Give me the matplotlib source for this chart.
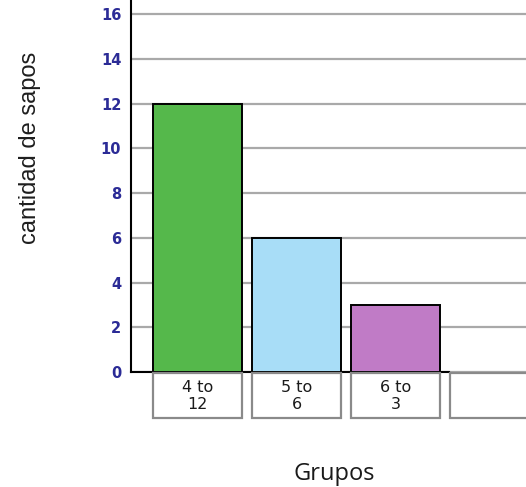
import matplotlib
matplotlib.use("Agg")
import matplotlib.pyplot as plt
from matplotlib.patches import Rectangle

# Data
groups = ["4 to\n12", "5 to\n6", "6 to\n3", ""]
counts = [12, 6, 3]
bar_colors = ["#55b84b", "#a8ddf7", "#c07bc6"]
y_ticks = [0, 2, 4, 6, 8, 10, 12, 14, 16]

W, H = 526, 487
fig = plt.figure(figsize=(W / 100, H / 100), dpi=100)
fig.patch.set_facecolor("white")

ax = fig.add_axes([131 / W, 1 - 372 / H, 1 - 131 / W, 380 / H])
ax.set_xlim(-0.672, 3.318)
ax.set_ylim(0, 17)

# horizontal grid behind the bars
ax.set_axisbelow(True)
ax.yaxis.grid(True, color="#a9a9a9", linewidth=1.6)
ax.set_yticks(y_ticks)
ax.set_yticklabels([str(t) for t in y_ticks])
ax.tick_params(axis="y", length=0, pad=7, labelcolor="#2b2b96",
               labelsize=10.5)
for lab in ax.get_yticklabels():
    lab.set_family("DejaVu Sans")
    lab.set_fontweight("bold")
ax.set_xticks([])

for s in ("top", "right"):
    ax.spines[s].set_visible(False)
ax.spines["left"].set_linewidth(1.5)
ax.spines["left"].set_color("black")
ax.spines["bottom"].set_linewidth(1.5)
ax.spines["bottom"].set_color("black")
ax.spines["bottom"].set_bounds(-0.672, len(counts) - 0.46)

bar_w = 0.89
xs = list(range(len(counts)))
ax.bar(xs, counts, width=bar_w, color=bar_colors, edgecolor="black",
       linewidth=1.4, zorder=3)

# category boxes under the axis
box_top, box_bot = -0.05, -2.06
for i, g in enumerate(groups):
    ax.add_patch(Rectangle((i - bar_w / 2, box_bot), bar_w, box_top - box_bot,
                           facecolor="white", edgecolor="#8a8a8a",
                           linewidth=1.6, clip_on=False, zorder=4))
    if g:
        ax.text(i, (box_top + box_bot) / 2 - 0.02, g, ha="center",
                va="center", fontsize=11.5, family="DejaVu Sans",
                color="#1a1a1a", linespacing=1.1, clip_on=False, zorder=5)

fig.text(30 / W, 1 - 148 / H, "cantidad de sapos", rotation=90,
         ha="center", va="center", fontsize=17,
         family="Liberation Sans", color="#1e1e1e")
fig.text(334.5 / W, 1 - 480 / H, "Grupos", ha="center", va="baseline",
         fontsize=17, family="Open Sans", color="#1a1a1a")

fig.savefig("out.png", dpi=100)
